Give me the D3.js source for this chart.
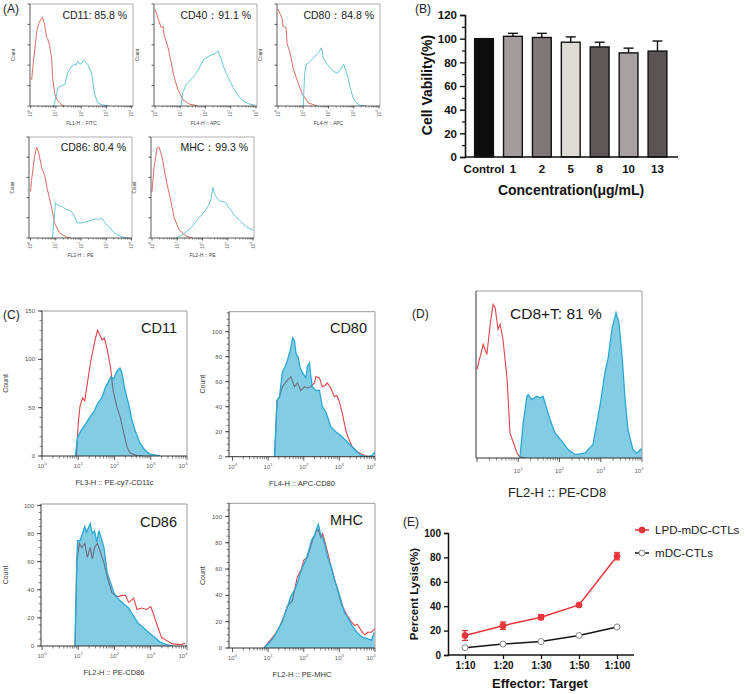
<!DOCTYPE html>
<html><head><meta charset="utf-8">
<script src="https://cdn.jsdelivr.net/npm/d3@7"></script>
<style>body{margin:0;background:#fff}svg{display:block;font-family:"Liberation Sans",Arial,sans-serif}</style>
</head><body><script>
// ---------------- DATA ----------------
// Panel A: [log10 intensity, % of max count]
const aLabels = ["CD11: 85.8 %","CD40：91.1 %","CD80：84.8 %","CD86: 80.4 %","MHC：99.3 %"];
const aAxisTitles = ["FL1-H :: FITC","FL4-H :: APC","FL4-H :: APC","FL2-H :: PE","FL2-H :: PE"];
const aRed1 = [[0,27],[0.04,26],[0.08,37],[0.24,73],[0.32,81],[0.43,86],[0.47,87],[0.55,80],[0.63,67],[0.67,66],[0.75,59],[0.83,47],[0.87,27],[0.95,12],[1.07,5],[1.23,1],[1.34,0]];
const aCyan1 = [[0.91,0],[0.99,8],[1.08,18],[1.23,20],[1.35,21],[1.47,33],[1.62,39],[1.74,41],[1.8,40],[1.86,44],[1.95,41],[2.02,42],[2.08,45],[2.14,44],[2.2,42],[2.26,41],[2.42,31],[2.53,12],[2.65,3],[2.85,1],[3.13,0]];
const aRed2 = [[0,95],[0.16,83],[0.24,77],[0.32,78],[0.36,70],[0.52,57],[0.63,44],[0.75,29],[0.91,16],[1.11,6],[1.35,2],[1.7,0]];
const aCyan2 = [[1.03,0],[1.1,14],[1.15,16],[1.23,21],[1.35,24],[1.45,27],[1.55,29],[1.65,33],[1.75,37],[1.85,42],[1.94,46],[2.04,47],[2.14,49],[2.24,50],[2.34,51],[2.42,52],[2.5,54],[2.56,50],[2.62,46],[2.74,37],[2.84,31],[2.94,26],[3.1,18],[3.29,10],[3.49,5],[3.73,2],[3.95,1]];
const aRed3 = [[0,95],[0.16,86],[0.2,78],[0.32,77],[0.36,61],[0.48,52],[0.6,37],[0.76,25],[0.96,12],[1.2,3],[1.56,0]];
const aCyan3 = [[1.0,0],[1.05,30],[1.12,41],[1.2,42],[1.28,44],[1.36,46],[1.48,49],[1.6,52],[1.72,57],[1.8,47],[1.92,42],[2.08,37],[2.2,34],[2.36,32],[2.48,36],[2.6,41],[2.76,29],[2.88,16],[3.0,6],[3.2,1],[3.48,0]];
const aRed4 = [[0,46],[0.04,57],[0.16,80],[0.24,90],[0.32,85],[0.44,70],[0.56,62],[0.67,48],[0.83,31],[0.95,15],[1.15,5],[1.42,1],[1.6,0]];
const aCyan4 = [[0.87,0],[0.99,35],[1.05,33],[1.15,32],[1.27,31],[1.37,29],[1.47,28],[1.57,27],[1.66,25],[1.76,20],[1.86,15],[2.06,15],[2.2,16],[2.33,17],[2.45,18],[2.6,19],[2.7,18],[2.8,20],[2.92,16],[3.02,13],[3.12,11],[3.32,5],[3.6,1],[3.9,0]];
const aRed5 = [[0,46],[0.08,70],[0.2,89],[0.28,90],[0.4,80],[0.47,70],[0.59,54],[0.75,36],[0.87,21],[1.07,8],[1.34,2],[1.6,0]];
const aCyan5 = [[0.95,0],[1.19,3],[1.35,6],[1.54,10],[1.7,15],[1.86,20],[2.0,24],[2.13,28],[2.25,33],[2.33,38],[2.41,50],[2.47,44],[2.53,41],[2.63,38],[2.73,36],[2.82,36],[2.92,35],[3.02,31],[3.12,28],[3.22,24],[3.32,21],[3.45,18],[3.56,15],[3.75,11],[3.9,9],[4.0,8]];

// Panel B
const bCategories = ["Control","1","2","5","8","10","13"];
const bValues = [100,102,101,97,93,88,89.5];
const bErrors = [0,2.5,3.5,4.5,4,4,8.5];
const bColors = ["#0d0d0d","#a39c9c","#807878","#dedbd6","#5f5959","#a8a1a1","#5a5454"];
const bYTicks = [0,20,40,60,80,100,120];

// Panel C: [log10 intensity, count]
const cLabels = ["CD11","CD80","CD86","MHC"];
const cAxisTitles = ["FL3-H :: PE-cy7-CD11c","FL4-H :: APC-CD80","FL2-H :: PE-CD86","FL2-H :: PE-MHC"];
const cBlue1 = [[0.92,0],[0.98,19],[1.07,26],[1.18,32],[1.3,39],[1.45,47],[1.53,54],[1.66,61],[1.75,71],[1.85,78],[1.9,82],[1.98,80],[2.07,88],[2.15,91],[2.2,87],[2.29,68],[2.39,54],[2.48,37],[2.57,26],[2.71,13],[2.84,6],[2.98,2],[3.25,0]];
const cRed1 = [[0.95,0],[1.0,34],[1.05,52],[1.12,60],[1.18,57],[1.25,75],[1.34,97],[1.44,116],[1.53,130],[1.6,125],[1.66,120],[1.72,122],[1.8,110],[1.89,92],[1.96,68],[2.07,50],[2.16,40],[2.26,23],[2.35,9],[2.43,3],[2.62,0.5],[2.8,0]];
const cBlue2 = [[1.18,0],[1.25,45],[1.32,48],[1.4,68],[1.48,72],[1.54,77],[1.62,85],[1.69,95],[1.74,93],[1.78,83],[1.84,80],[1.9,71],[1.97,67],[2.06,63],[2.1,72],[2.16,75],[2.2,64],[2.24,56],[2.34,53],[2.44,53],[2.52,40],[2.62,36],[2.76,24],[2.9,20],[3.04,17],[3.18,13],[3.32,9],[3.46,5],[3.6,1],[3.8,0],[3.92,1],[4.0,4]];
const cRed2 = [[1.18,0],[1.25,45],[1.32,48],[1.4,56],[1.54,61],[1.64,64],[1.74,56],[1.82,59],[1.92,53],[2.02,56],[2.1,55],[2.2,56],[2.3,59],[2.34,64],[2.44,63],[2.52,56],[2.6,57],[2.66,59],[2.76,55],[2.86,48],[2.93,49],[3.0,44],[3.08,35],[3.18,21],[3.28,13],[3.36,8],[3.5,4],[3.7,1],[3.9,0]];
const cBlue3 = [[0.91,0],[0.96,60],[0.98,75],[1.05,75],[1.12,80],[1.18,85],[1.23,81],[1.33,87],[1.39,80],[1.45,82],[1.51,74],[1.57,82],[1.63,77],[1.71,70],[1.8,52],[1.89,45],[1.98,38],[2.12,33],[2.25,30],[2.39,27],[2.53,21],[2.66,16],[2.8,13],[2.93,10],[3.07,7],[3.25,3],[3.43,1],[3.6,0]];
const cRed3 = [[0.91,0],[0.96,60],[1.03,73],[1.1,70],[1.18,73],[1.25,63],[1.33,70],[1.39,62],[1.45,70],[1.53,73],[1.62,66],[1.71,59],[1.8,49],[1.93,38],[2.07,35],[2.21,36],[2.3,36],[2.39,31],[2.53,34],[2.62,26],[2.75,27],[2.89,26],[3.0,28],[3.07,23],[3.16,16],[3.3,6],[3.43,4],[3.6,1.5],[3.84,1],[3.95,2]];
const cBlue4 = [[0.88,0],[1.02,3.6],[1.16,8],[1.3,15],[1.4,21],[1.54,31],[1.63,39],[1.78,46],[1.87,54],[1.96,61],[2.06,67],[2.16,76],[2.22,82],[2.29,85],[2.37,91],[2.41,94],[2.46,88],[2.53,84],[2.6,78],[2.67,69],[2.77,62],[2.86,52],[2.96,44],[3.05,36],[3.14,27],[3.24,23],[3.38,16],[3.52,11],[3.66,8],[3.8,7],[3.9,6],[3.98,12]];
const cRed4 = [[0.88,0],[1.02,4.6],[1.21,11],[1.4,20],[1.54,32],[1.68,36],[1.82,54],[1.92,59],[2.01,67],[2.1,69],[2.25,82],[2.34,88],[2.41,90],[2.48,84],[2.53,87],[2.63,77],[2.72,67],[2.82,57],[2.91,48],[3.05,34],[3.19,26],[3.33,20],[3.43,17],[3.5,18],[3.62,13],[3.71,10],[3.8,12],[3.9,12],[4.0,15]];

// Panel D
const dLabel = "CD8+T: 81 %";
const dAxisTitle = "FL2-H :: PE-CD8";
const dRed = [[0,53],[0.15,68],[0.24,62],[0.32,80],[0.39,92],[0.44,90],[0.51,77],[0.56,80],[0.63,71],[0.73,47],[0.8,15],[0.97,3],[1.04,0.5],[1.19,0]];
const dBlue = [[1.04,0],[1.12,21],[1.21,37],[1.24,38],[1.33,35],[1.45,37],[1.53,36],[1.6,37],[1.7,29],[1.77,23],[1.89,15],[2.06,10],[2.21,5],[2.38,2],[2.5,2.5],[2.62,3],[2.81,8],[2.98,31],[3.1,51],[3.18,60],[3.27,77],[3.37,87],[3.44,81],[3.52,60],[3.59,35],[3.66,17],[3.78,5],[3.88,3],[4.0,6]];

// Panel E
const eCategories = ["1:10","1:20","1:30","1:50","1:100"];
const eLPD = [16,24,31,41,81];
const eLPDErr = [4,3,2,1,3];
const eMDC = [6,9,11,16,23];
const eMDCErr = [0.6,0.6,0.6,0.6,0.6];
const eSeriesNames = ["LPD-mDC-CTLs","mDC-CTLs"];
const eYTicks = [0,20,40,60,80,100];

// ---------------- DRAW ----------------
const svg = d3.select("body").append("svg").attr("width",745).attr("height",694);
const defs = svg.append("defs");
let clipN = 0;
const lg = (d)=>Math.pow(10,d[0]);

function panelLabel(t,x,y){ svg.append("text").attr("x",x).attr("y",y).attr("font-size",12).attr("fill","#222").text(t); }

function supText(sel, k, size){
  sel.text("10").append("tspan").attr("dy",-size*0.45).attr("font-size",size*0.7).text(k);
}

function flow(o){
  const g = svg.append("g");
  const x = d3.scaleLog().domain([1,1e4]).range(o.xr);
  const y = d3.scaleLinear().domain([0,o.ymax]).range([o.by,o.ty]);
  const id = "clip"+(clipN++);
  defs.append("clipPath").attr("id",id).append("rect")
    .attr("x",o.lx).attr("y",o.ty).attr("width",o.rx-o.lx).attr("height",o.by-o.ty);
  const plot = g.append("g").attr("clip-path",`url(#${id})`);
  const line = d3.line().x(d=>x(lg(d))).y(d=>y(d[1]));
  const area = d3.area().x(d=>x(lg(d))).y0(y(0)).y1(d=>y(d[1]));
  if(o.filled){
    plot.append("path").attr("d",line(o.red)).attr("fill","none").attr("stroke","#e0454a").attr("stroke-width",1.1);
    const aid = "area"+(clipN++);
    defs.append("clipPath").attr("id",aid).append("path").attr("d",area(o.blue));
    plot.append("path").attr("d",area(o.blue)).attr("fill","#82cce4");
    plot.append("g").attr("clip-path",`url(#${aid})`).append("path").attr("d",line(o.red))
      .attr("fill","none").attr("stroke","#6e6e7e").attr("stroke-width",1.1);
    plot.append("path").attr("d",line(o.blue)).attr("fill","none").attr("stroke","#2aa8d2").attr("stroke-width",1.3);
  } else {
    plot.append("path").attr("d",line(o.red)).attr("fill","none").attr("stroke","#de6e62").attr("stroke-width",1);
    plot.append("path").attr("d",line(o.blue)).attr("fill","none").attr("stroke","#67c6d6").attr("stroke-width",1);
  }
  // frame
  g.append("line").attr("x1",o.lx).attr("x2",o.rx).attr("y1",o.ty).attr("y2",o.ty).attr("stroke","#9a9a9a").attr("stroke-width",o.fw);
  g.append("line").attr("x1",o.rx).attr("x2",o.rx).attr("y1",o.ty).attr("y2",o.by).attr("stroke","#9a9a9a").attr("stroke-width",o.fw);
  g.append("line").attr("x1",o.lx).attr("x2",o.lx).attr("y1",o.ty).attr("y2",o.by).attr("stroke","#333").attr("stroke-width",o.fw);
  g.append("line").attr("x1",o.lx).attr("x2",o.rx).attr("y1",o.by).attr("y2",o.by).attr("stroke","#333").attr("stroke-width",o.fw);
  // x ticks (log)
  const majors=[1,10,100,1000,10000];
  const minors=[];
  for(let k=0;k<4;k++) for(let m=2;m<=9;m++) minors.push(m*Math.pow(10,k));
  g.selectAll(null).data(majors).join("line").attr("x1",d=>x(d)).attr("x2",d=>x(d))
    .attr("y1",o.by).attr("y2",o.by+o.tmaj).attr("stroke","#333").attr("stroke-width",0.8);
  g.selectAll(null).data(minors).join("line").attr("x1",d=>x(d)).attr("x2",d=>x(d))
    .attr("y1",o.by).attr("y2",o.by+o.tmin).attr("stroke","#333").attr("stroke-width",0.6);
  // x tick labels
  majors.forEach((v,i)=>{
    if(o.skipX && o.skipX.includes(i)) return;
    let px = x(v); if(i===4 && o.lastShift) px += o.lastShift;
    const t = g.append("text").attr("font-size",o.tfs).attr("fill","#666");
    if(o.rotTicks){
      t.attr("transform",`translate(${px+1.5},${o.by+o.tly}) rotate(-90)`).attr("text-anchor","end");
    } else {
      t.attr("x",px).attr("y",o.by+o.tly).attr("text-anchor","middle");
    }
    supText(t,i,o.tfs);
  });
  // y ticks
  if(o.yMinor){
    g.selectAll(null).data(d3.range(0,o.ymax+0.01,o.yMinor)).join("line")
      .attr("x1",o.lx).attr("x2",o.lx-o.tmin).attr("y1",d=>y(d)).attr("y2",d=>y(d)).attr("stroke","#333").attr("stroke-width",0.6);
  }
  if(o.yTicks){
    g.selectAll(null).data(o.yTicks).join("line")
      .attr("x1",o.lx).attr("x2",o.lx-o.tmaj).attr("y1",d=>y(d)).attr("y2",d=>y(d)).attr("stroke","#333").attr("stroke-width",0.8);
    if(o.yLabels){
      g.selectAll(null).data(o.yTicks).join("text").attr("x",o.lx-o.tmaj-3).attr("y",d=>y(d)+o.tfs*0.35)
        .attr("text-anchor","end").attr("font-size",o.tfs).attr("fill","#555").text(d=>d);
    }
  }
  // count label
  if(o.countX!==undefined){
    g.append("text").attr("transform",`translate(${o.countX},${(o.ty+o.by)/2}) rotate(-90)`)
      .attr("text-anchor","middle").attr("font-size",o.cfs).attr("fill","#444").text("Count");
  }
  // axis title
  g.append("text").attr("x",o.titleX!==undefined?o.titleX:(o.lx+o.rx)/2).attr("y",o.by+o.titleDy)
    .attr("text-anchor","middle").attr("font-size",o.titleFs).attr("fill",o.titleColor||"#444").text(o.title);
  // annotation
  g.append("text").attr("x",o.annX).attr("y",o.annY).attr("text-anchor",o.annAnchor||"end")
    .attr("font-size",o.annFs).attr("fill","#1a1a1a").text(o.ann);
}

// ---- Panel A ----
panelLabel("(A)",3,13);
const aFrames = [
  {lx:30,rx:133,ty:4,by:106,xr:[30.7,131.7]},
  {lx:154,rx:257,ty:4,by:106,xr:[155,256]},
  {lx:277,rx:380,ty:4,by:106,xr:[278,379]},
  {lx:29,rx:132,ty:137,by:238,xr:[30.5,131.5]},
  {lx:151,rx:254,ty:137,by:238,xr:[152,253]}
];
const aReds=[aRed1,aRed2,aRed3,aRed4,aRed5], aCyans=[aCyan1,aCyan2,aCyan3,aCyan4,aCyan5];
aFrames.forEach((f,i)=>{
  flow(Object.assign({},f,{ymax:100,red:aReds[i],blue:aCyans[i],filled:false,fw:0.8,
    tmaj:2.5,tmin:1.5,tfs:4.5,tly:4,rotTicks:true,yTicks:[0,20,40,60,80,100],yLabels:false,
    countX:f.lx-15,cfs:4.5,title:aAxisTitles[i],titleDy:19,titleFs:5,
    ann:aLabels[i],annX:f.rx-6,annY:f.ty+(i<3?15:14),annFs:10.5}));
});

// ---- Panel B ----
panelLabel("(B)",415,13);
(function(){
  const g = svg.append("g");
  const x = d3.scaleBand().domain(bCategories).range([464.5,677]).padding(0.35);
  const y = d3.scaleLinear().domain([0,120]).range([157,15]);
  g.selectAll(null).data(bCategories).join("line")
    .attr("x1",d=>x(d)+x.bandwidth()/2).attr("x2",d=>x(d)+x.bandwidth()/2)
    .attr("y1",(d,i)=>y(bValues[i])).attr("y2",(d,i)=>y(bValues[i]+bErrors[i]))
    .attr("stroke","#111").attr("stroke-width",1.4);
  g.selectAll(null).data(bCategories).join("line")
    .attr("x1",d=>x(d)+x.bandwidth()/2-5).attr("x2",d=>x(d)+x.bandwidth()/2+5)
    .attr("y1",(d,i)=>y(bValues[i]+bErrors[i])).attr("y2",(d,i)=>y(bValues[i]+bErrors[i]))
    .attr("stroke","#111").attr("stroke-width",1.4);
  g.selectAll(null).data(bCategories).join("rect")
    .attr("x",d=>x(d)).attr("width",x.bandwidth())
    .attr("y",(d,i)=>y(bValues[i])).attr("height",(d,i)=>y(0)-y(bValues[i]))
    .attr("fill",(d,i)=>bColors[i]).attr("stroke","#111").attr("stroke-width",1.4);
  const ya = g.append("g").attr("transform","translate(465,0)")
    .call(d3.axisLeft(y).tickValues(bYTicks).tickSize(5).tickPadding(3));
  ya.select(".domain").attr("stroke-width",1.6).attr("stroke","#111");
  ya.selectAll(".tick line").attr("stroke-width",1.4).attr("stroke","#111");
  ya.selectAll("text").attr("font-size",11.5).attr("font-weight","bold").attr("fill","#111").attr("font-family","Liberation Sans, Arial, sans-serif");
  const ym = g.append("g").attr("transform","translate(465,0)")
    .call(d3.axisLeft(y).tickValues([10,30,50,70,90,110]).tickSize(3).tickFormat(""));
  ym.select(".domain").remove();
  ym.selectAll(".tick line").attr("stroke-width",1.2).attr("stroke","#111");
  const xa = g.append("g").attr("transform","translate(0,157)")
    .call(d3.axisBottom(x).tickSize(0).tickPadding(8));
  xa.select(".domain").attr("d","M465,0H678").attr("stroke-width",1.6).attr("stroke","#111");
  xa.selectAll("text").attr("font-size",11.5).attr("font-weight","bold").attr("fill","#111").attr("font-family","Liberation Sans, Arial, sans-serif");
  g.append("text").attr("transform","translate(432,85) rotate(-90)").attr("text-anchor","middle")
    .attr("font-size",14).attr("font-weight","bold").attr("fill","#111").text("Cell Vability(%)");
  g.append("text").attr("x",571).attr("y",195).attr("text-anchor","middle")
    .attr("font-size",14).attr("font-weight","bold").attr("fill","#111").text("Concentration(μg/mL)");
})();

// ---- Panel C ----
panelLabel("(C)",3,319);
const cFrames = [
  {lx:42,rx:187,ty:311,by:456,xr:[42,187],ymax:150,yTicks:[0,50,100,150],yMinor:10,countX:8,red:cRed1,blue:cBlue1,annX:177,annY:333},
  {lx:229,rx:375,ty:311.7,by:456.7,xr:[232.5,375],ymax:116,yTicks:[0,20,40,60,80,100],yMinor:5,countX:205,red:cRed2,blue:cBlue2,annX:367,annY:333},
  {lx:41,rx:187,ty:504,by:646,xr:[42,187],ymax:101,yTicks:[0,20,40,60,80,100],yMinor:5,countX:8,red:cRed3,blue:cBlue3,annX:177,annY:527},
  {lx:229,rx:375,ty:503.3,by:648,xr:[232.5,375],ymax:110,yTicks:[0,20,40,60,80,100],yMinor:5,countX:205,red:cRed4,blue:cBlue4,annX:363,annY:525}
];
cFrames.forEach((f,i)=>{
  flow(Object.assign({},f,{filled:true,fw:1,tmaj:4,tmin:2.5,tfs:6,tly:12,rotTicks:false,yLabels:true,
    lastShift:-4,cfs:7,title:cAxisTitles[i],titleDy:29,titleFs:7.5,titleColor:"#333",
    ann:cLabels[i],annFs:14.5}));
});

// ---- Panel D ----
panelLabel("(D)",412,318);
flow({lx:476,rx:642,ty:291,by:458,xr:[477,642],ymax:100,red:dRed,blue:dBlue,filled:true,fw:1,
  tmaj:4,tmin:2.5,tfs:6,tly:15,rotTicks:false,skipX:[0],lastShift:-3,yTicks:null,yMinor:null,
  title:dAxisTitle,titleDy:39,titleFs:13,titleColor:"#222",titleX:557,
  ann:dLabel,annX:510,annY:319,annAnchor:"start",annFs:15.5});

// ---- Panel E ----
panelLabel("(E)",403,526);
(function(){
  const g = svg.append("g");
  const x = d3.scalePoint().domain(eCategories).range([448,634]).padding(0.447);
  const y = d3.scaleLinear().domain([0,100]).range([655,533]);
  const ya = g.append("g").attr("transform","translate(448,0)")
    .call(d3.axisLeft(y).tickValues(eYTicks).tickSize(4).tickPadding(3));
  ya.select(".domain").attr("stroke-width",1.5).attr("stroke","#111");
  ya.selectAll(".tick line").attr("stroke-width",1.3).attr("stroke","#111");
  ya.selectAll("text").attr("font-size",10).attr("font-weight","bold").attr("fill","#111").attr("font-family","Liberation Sans, Arial, sans-serif");
  const xa = g.append("g").attr("transform","translate(0,655)")
    .call(d3.axisBottom(x).tickSize(4).tickPadding(3));
  xa.select(".domain").attr("d","M448,0H634").attr("stroke-width",1.5).attr("stroke","#111");
  xa.selectAll(".tick line").attr("stroke-width",1.3).attr("stroke","#111");
  xa.selectAll("text").attr("font-size",10).attr("font-weight","bold").attr("fill","#111").attr("font-family","Liberation Sans, Arial, sans-serif");
  g.append("text").attr("transform","translate(418,594) rotate(-90)").attr("text-anchor","middle")
    .attr("font-size",11.5).attr("font-weight","bold").attr("fill","#111").text("Percent Lysis(%)");
  g.append("text").attr("x",540).attr("y",688).attr("text-anchor","middle")
    .attr("font-size",13).attr("font-weight","bold").attr("fill","#111").text("Effector: Target");
  const series = [
    {vals:eLPD,err:eLPDErr,color:"#e8343b",fill:"#e8343b",mstroke:"#e8343b"},
    {vals:eMDC,err:eMDCErr,color:"#151515",fill:"#ffffff",mstroke:"#8a8a8a"}
  ];
  const line = d3.line().x(d=>x(d.c)).y(d=>y(d.v));
  series.forEach(s=>{
    const pts = eCategories.map((c,i)=>({c,v:s.vals[i],e:s.err[i]}));
    g.append("path").attr("d",line(pts)).attr("fill","none").attr("stroke",s.color).attr("stroke-width",1.5);
    pts.forEach(p=>{
      g.append("line").attr("x1",x(p.c)).attr("x2",x(p.c)).attr("y1",y(p.v-p.e)).attr("y2",y(p.v+p.e)).attr("stroke",s.color).attr("stroke-width",1.3);
      [p.v-p.e,p.v+p.e].forEach(v=>g.append("line").attr("x1",x(p.c)-3).attr("x2",x(p.c)+3).attr("y1",y(v)).attr("y2",y(v)).attr("stroke",s.color).attr("stroke-width",1.3));
    });
    g.selectAll(null).data(pts).join("circle").attr("cx",d=>x(d.c)).attr("cy",d=>y(d.v)).attr("r",3)
      .attr("fill",s.fill).attr("stroke",s.mstroke).attr("stroke-width",1);
  });
  // legend
  series.forEach((s,i)=>{
    const ly = 530 + i*23;
    g.append("line").attr("x1",635).attr("x2",649).attr("y1",ly).attr("y2",ly).attr("stroke",s.color).attr("stroke-width",1.5);
    g.append("circle").attr("cx",642).attr("cy",ly).attr("r",3).attr("fill",s.fill).attr("stroke",s.mstroke).attr("stroke-width",1);
    g.append("text").attr("x",655).attr("y",ly+4.3).attr("font-size",11.6).attr("fill","#1a1a1a").text(eSeriesNames[i]);
  });
})();
</script></body></html>
